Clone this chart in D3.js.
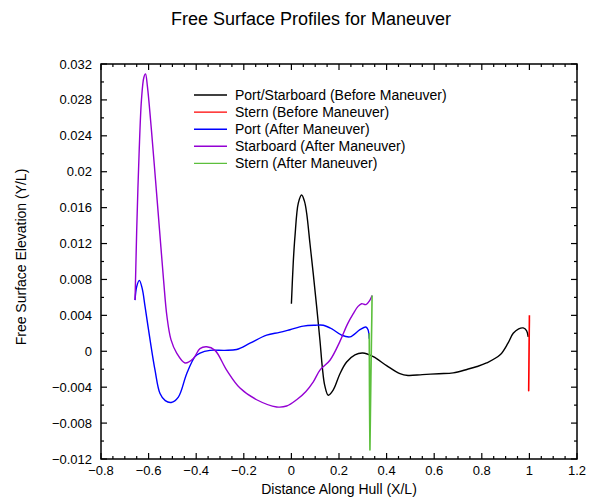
<!DOCTYPE html>
<html>
<head>
<meta charset="utf-8">
<script src="https://cdn.jsdelivr.net/npm/d3@7"></script>
<style>
  html, body { margin: 0; padding: 0; background: #fff; }
  svg text { font-family: "Liberation Sans", Arial, Helvetica, sans-serif; fill: #000; }
</style>
</head>
<body>
<svg id="chart" width="589" height="497"></svg>
<script>
// Free surface elevation profiles along the hull, before and after the maneuver
const portStbdBeforeX = [0.000, 0.008, 0.015, 0.029, 0.043, 0.055, 0.064, 0.078, 0.092, 0.106, 0.120, 0.130, 0.140, 0.155, 0.176, 0.204, 0.232, 0.267, 0.300, 0.344, 0.400, 0.456, 0.490, 0.550, 0.620, 0.680, 0.740, 0.780, 0.820, 0.877, 0.910, 0.932, 0.955, 0.974, 0.988, 0.995];
const portStbdBeforeY = [0.0053, 0.0100, 0.0128, 0.0165, 0.0174, 0.0167, 0.0154, 0.0120, 0.0086, 0.0050, 0.0012, -0.0018, -0.0038, -0.0049, -0.0043, -0.0025, -0.0012, -0.0004, -0.0002, -0.0006, -0.0016, -0.0025, -0.0027, -0.0026, -0.0025, -0.0024, -0.0020, -0.0017, -0.0013, -0.0004, 0.0009, 0.0020, 0.0025, 0.0026, 0.0023, 0.0016];

const sternBeforeX = [1.000, 0.999, 0.998, 0.997, 0.998, 0.999, 1.000];
const sternBeforeY = [0.0040, 0.0010, -0.0020, -0.0044, -0.0015, 0.0015, 0.0035];

const portAfterX = [-0.657, -0.650, -0.639, -0.627, -0.615, -0.594, -0.573, -0.552, -0.530, -0.505, -0.475, -0.440, -0.405, -0.384, -0.342, -0.280, -0.230, -0.174, -0.104, -0.050, -0.006, 0.050, 0.100, 0.134, 0.170, 0.211, 0.246, 0.288, 0.313, 0.322, 0.327];
const portAfterY = [0.0057, 0.0072, 0.0079, 0.0070, 0.0050, 0.0013, -0.0021, -0.0047, -0.0055, -0.0057, -0.0051, -0.0025, -0.0006, -0.0002, 0.0001, 0.0001, 0.0002, 0.0009, 0.0018, 0.0021, 0.0024, 0.0028, 0.0029, 0.0029, 0.0025, 0.0018, 0.0016, 0.0024, 0.0027, 0.0024, 0.0014];

const stbdAfterX = [-0.657, -0.654, -0.650, -0.640, -0.630, -0.620, -0.613, -0.605, -0.588, -0.571, -0.554, -0.537, -0.523, -0.506, -0.482, -0.447, -0.412, -0.384, -0.356, -0.321, -0.272, -0.216, -0.146, -0.062, -0.020, 0.022, 0.060, 0.092, 0.120, 0.162, 0.204, 0.235, 0.260, 0.280, 0.295, 0.313, 0.330, 0.339];
const stbdAfterY = [0.0057, 0.0090, 0.0135, 0.0220, 0.0280, 0.0305, 0.0309, 0.0295, 0.0246, 0.0191, 0.0135, 0.0079, 0.0039, 0.0013, -0.0002, -0.0013, -0.0008, 0.0003, 0.0005, 0.0001, -0.0021, -0.0041, -0.0054, -0.0062, -0.0061, -0.0054, -0.0045, -0.0034, -0.0021, -0.0010, 0.0011, 0.0030, 0.0042, 0.0050, 0.0053, 0.0052, 0.0057, 0.0062];

const sternAfterX = [0.327, 0.328, 0.329, 0.330, 0.332, 0.334, 0.336, 0.338, 0.339];
const sternAfterY = [0.0020, -0.0040, -0.0080, -0.0110, -0.0070, -0.0030, 0.0005, 0.0040, 0.0062];

const seriesNames = ["Port/Starboard (Before Maneuver)", "Stern (Before Maneuver)", "Port (After Maneuver)", "Starboard (After Maneuver)", "Stern (After Maneuver)"];
const seriesColors = ["#000000", "#ff0000", "#0000ff", "#9400d3", "#5cbf3c"];

const xTickValues = [-0.8, -0.6, -0.4, -0.2, 0, 0.2, 0.4, 0.6, 0.8, 1, 1.2];
const xTickLabels = ["\u22120.8", "\u22120.6", "\u22120.4", "\u22120.2", "0", "0.2", "0.4", "0.6", "0.8", "1", "1.2"];
const yTickValues = [0.032, 0.028, 0.024, 0.02, 0.016, 0.012, 0.008, 0.004, 0, -0.004, -0.008, -0.012];
const yTickLabels = ["0.032", "0.028", "0.024", "0.02", "0.016", "0.012", "0.008", "0.004", "0", "\u22120.004", "\u22120.008", "\u22120.012"];

const titleText = "Free Surface Profiles for Maneuver";
const xAxisTitle = "Distance Along Hull (X/L)";
const yAxisTitle = "Free Surface Elevation (Y/L)";

// Layout
const svg = d3.select("#chart");
const plot = { left: 101, right: 577, top: 64, bottom: 459 };

const x = d3.scaleLinear().domain([-0.8, 1.2]).range([plot.left, plot.right]);
const y = d3.scaleLinear().domain([-0.012, 0.032]).range([plot.bottom, plot.top]);

const zip = (xs, ys) => xs.map((v, i) => [v, ys[i]]);
const series = [
  { pts: zip(portStbdBeforeX, portStbdBeforeY), curve: d3.curveCatmullRom.alpha(0.5), w: 1.4 },
  { pts: zip(sternBeforeX, sternBeforeY), curve: d3.curveLinear, w: 1.6 },
  { pts: zip(portAfterX, portAfterY), curve: d3.curveCatmullRom.alpha(0.5), w: 1.4 },
  { pts: zip(stbdAfterX, stbdAfterY), curve: d3.curveCatmullRom.alpha(0.5), w: 1.4 },
  { pts: zip(sternAfterX, sternAfterY), curve: d3.curveLinear, w: 1.6 }
];

// Title
svg.append("text")
  .attr("x", 311).attr("y", 25)
  .attr("text-anchor", "middle")
  .style("font-size", "18px")
  .text(titleText);

// Clip for the data lines
svg.append("defs").append("clipPath").attr("id", "plotClip")
  .append("rect")
  .attr("x", plot.left).attr("y", plot.top)
  .attr("width", plot.right - plot.left).attr("height", plot.bottom - plot.top);

// Curves
const lines = svg.append("g").attr("clip-path", "url(#plotClip)");
series.forEach((s, i) => {
  const line = d3.line().x(d => x(d[0])).y(d => y(d[1])).curve(s.curve);
  lines.append("path")
    .attr("d", line(s.pts))
    .attr("fill", "none")
    .attr("stroke", seriesColors[i])
    .attr("stroke-width", s.w)
    .attr("stroke-linejoin", "round");
});

// Frame
svg.append("rect")
  .attr("x", plot.left).attr("y", plot.top)
  .attr("width", plot.right - plot.left).attr("height", plot.bottom - plot.top)
  .attr("fill", "none").attr("stroke", "#000").attr("stroke-width", 1.5);

// Ticks on all four sides, pointing inward
const ticks = svg.append("g").attr("stroke", "#000").attr("stroke-width", 1.2);
const xMinor = d3.range(-0.8, 1.2001, 0.05).map(v => +v.toFixed(3));
const yMinor = d3.range(-0.012, 0.03201, 0.002).map(v => +v.toFixed(4));
const isMajor = (v, list) => list.some(m => Math.abs(m - v) < 1e-9);

xMinor.forEach(v => {
  const len = isMajor(v, xTickValues) ? 6 : 3;
  const px = x(v);
  ticks.append("line").attr("x1", px).attr("x2", px).attr("y1", plot.bottom).attr("y2", plot.bottom - len);
  ticks.append("line").attr("x1", px).attr("x2", px).attr("y1", plot.top).attr("y2", plot.top + len);
});
yMinor.forEach(v => {
  const len = isMajor(v, yTickValues) ? 6 : 3;
  const py = y(v);
  ticks.append("line").attr("x1", plot.left).attr("x2", plot.left + len).attr("y1", py).attr("y2", py);
  ticks.append("line").attr("x1", plot.right).attr("x2", plot.right - len).attr("y1", py).attr("y2", py);
});

// Tick labels
svg.append("g").selectAll("text").data(xTickValues).join("text")
  .attr("x", d => x(d)).attr("y", plot.bottom + 16)
  .attr("text-anchor", "middle")
  .style("font-size", "13px")
  .text((d, i) => xTickLabels[i]);

svg.append("g").selectAll("text").data(yTickValues).join("text")
  .attr("x", plot.left - 9).attr("y", d => y(d))
  .attr("dy", "0.35em")
  .attr("text-anchor", "end")
  .style("font-size", "13px")
  .text((d, i) => yTickLabels[i]);

// Axis titles
svg.append("text")
  .attr("x", (plot.left + plot.right) / 2).attr("y", 494)
  .attr("text-anchor", "middle")
  .style("font-size", "14px")
  .text(xAxisTitle);

svg.append("text")
  .attr("transform", `translate(26, 257) rotate(-90)`)
  .attr("text-anchor", "middle")
  .style("font-size", "14px")
  .text(yAxisTitle);

// Legend
const legend = svg.append("g").attr("transform", "translate(194, 95)");
seriesNames.forEach((name, i) => {
  const row = legend.append("g").attr("transform", `translate(0, ${i * 17.1})`);
  row.append("line").attr("x1", 0).attr("x2", 33).attr("y1", 0).attr("y2", 0)
    .attr("stroke", seriesColors[i]).attr("stroke-width", 1.4);
  row.append("text").attr("x", 41).attr("y", 0).attr("dy", "0.35em")
    .style("font-size", "14px").text(name);
});
</script>
</body>
</html>
